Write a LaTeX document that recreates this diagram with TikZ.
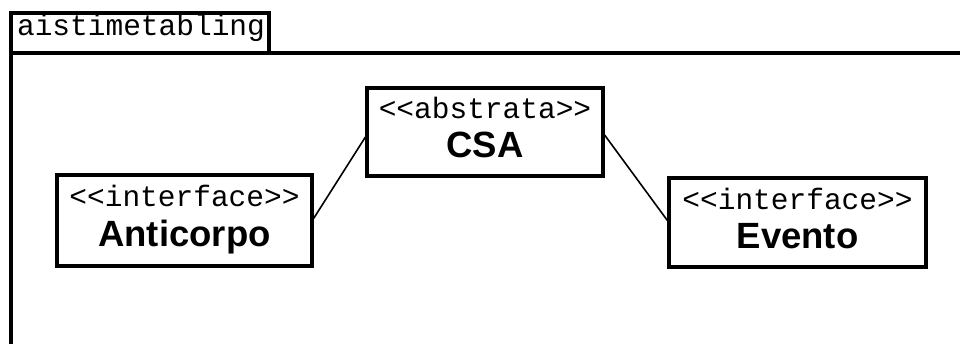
\documentclass[tikz,border=0pt]{standalone}
\usepackage{fontspec}
\setmainfont{Liberation Sans}
\newfontfamily\umlmono{Liberation Mono}
\usetikzlibrary{positioning}

\begin{document}
\begin{tikzpicture}[
		x=1pt,y=-1pt,
		classbox/.style={
			draw,
			line width=3.2pt,
			fill=white,
			inner sep=0pt
		},
		stereo/.style={
			font=\umlmono\fontsize{29.5}{31}\selectfont,
			inner sep=0pt
		},
		cname/.style={
			font=\bfseries\fontsize{36.5}{38}\selectfont,
			inner sep=0pt,
			anchor=base
		},
		assoc/.style={
			line width=1.6pt
		}
		]
		\fill[white] (0,0) rectangle (960,343);
		\useasboundingbox (0,0) rectangle (960,343);
		% package frame with its tab
		\draw[line width=3.2pt] (11,13) rectangle (269,53);
		\node[stereo, anchor=base] (pkg) at (141,35) {aistimetabling};
		\draw[line width=3.2pt] (11,345) -- (11,53) -- (962,53);
		% classes
		\node[classbox, minimum width=255, minimum height=91] (anti) at (184.5,220.5) {};
		\node[classbox, minimum width=236, minimum height=88] (csa) at (485,132) {};
		\node[classbox, minimum width=257, minimum height=89] (evt) at (797.5,222.5) {};
		\node[stereo, below=23pt of anti.north, anchor=center] (antist) {<<interface>>};
		\node[cname] (antinm) at ([yshift=-73pt]anti.north) {Anticorpo};
		\node[stereo, below=22pt of csa.north, anchor=center] (csast) {<<abstrata>>};
		\node[cname] (csanm) at ([yshift=-71pt]csa.north) {CSA};
		\node[stereo, below=23pt of evt.north, anchor=center] (evtst) {<<interface>>};
		\node[cname] (evtnm) at ([yshift=-72pt]evt.north) {Evento};
		% associations
		\draw[assoc] ([yshift=2pt]anti.east) -- ([yshift=-5pt]csa.west);
		\draw[assoc] ([yshift=-3pt]csa.east) -- ([yshift=2pt]evt.west);
\end{tikzpicture}
\end{document}
